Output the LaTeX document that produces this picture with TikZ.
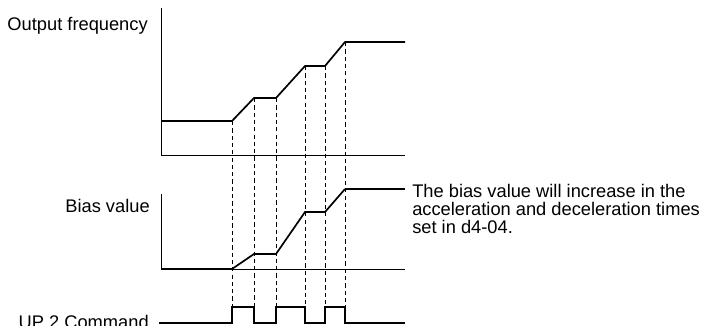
\documentclass[tikz,border=0pt]{standalone}
\usepackage{fontspec}
\setmainfont{Liberation Sans}
\usetikzlibrary{positioning}

\begin{document}
\begin{tikzpicture}[x=0.025cm,y=-0.025cm,
  axis/.style={line width=0.6pt},
  curve/.style={line width=1.2pt,line join=miter},
  guide/.style={line width=0.6pt,dash pattern=on 3pt off 2.2pt},
  lbl/.style={font=\fontsize{13}{12.8}\selectfont,inner sep=0pt}]
\useasboundingbox (0,0) rectangle (707,326);
% labels
\node[lbl,anchor=base east] (outf) at (148,30.5) {Output frequency};
\node[lbl,anchor=base east] (bias) at (150,213) {Bias value};
\node[lbl,anchor=base east] (upcmd) at (149,328) {UP 2 Command};
\node[lbl,align=left,anchor=north west,inner xsep=0.175cm] (note) at (405,184) {The bias value will increase in the\\acceleration and deceleration times\\set in d4-04.};
% output frequency
\draw[axis] (161,8) -- (161,155) -- (405,155);
\draw[curve] (161,121) -- (232,121) -- (254,98) -- (276,98) -- (305,66) -- (325,66) -- (345,42) -- (405,42);
% bias value
\draw[axis] (161,194) -- (161,269) -- (405,269);
\coordinate (bend) at (345,189);
\draw[curve] (161,269) -- (232,269) -- (254,254) -- (276,254) -- (305,212) -- (325,212) -- (bend);
\draw[curve] (bend) -- (bend -| note.west);
% UP 2 command
\draw[curve] (159,323) -- (232,323) -- (232,307) -- (254,307) -- (254,323) -- (276,323) -- (276,307) -- (305,307) -- (305,323) -- (325,323) -- (325,307) -- (345,307) -- (345,323) -- (405,323);
% timing guides
\foreach \x/\y in {232/121,254/98,276/98,305/66,325/66,345/42}
  \draw[guide] (\x,\y) -- (\x,307);
\end{tikzpicture}
\end{document}
